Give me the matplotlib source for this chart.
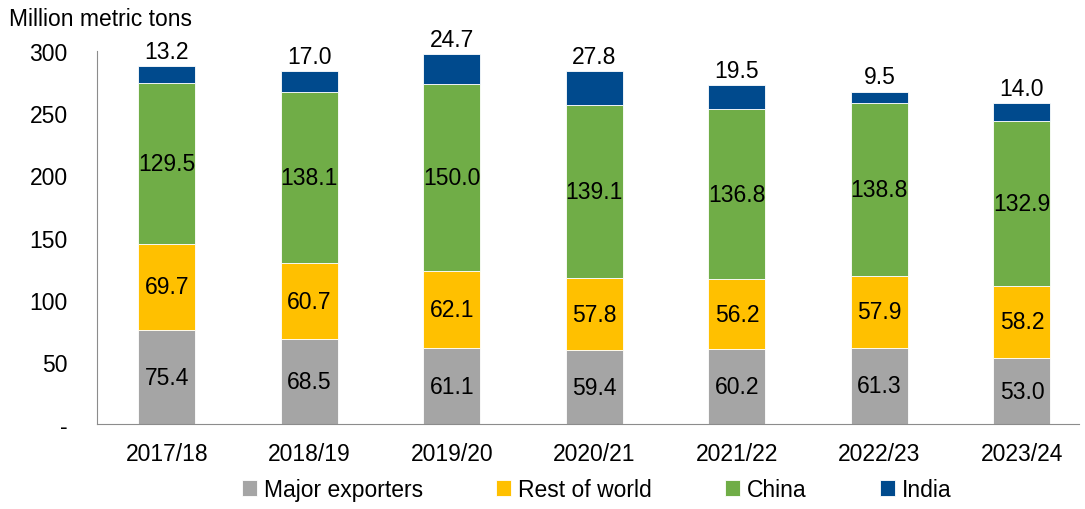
import matplotlib.pyplot as plt
import numpy as np

plt.rcParams['font.family'] = ['Liberation Sans', 'DejaVu Sans']

years = ['2017/18', '2018/19', '2019/20', '2020/21', '2021/22', '2022/23', '2023/24']
major_exporters = [75.4, 68.5, 61.1, 59.4, 60.2, 61.3, 53.0]
rest_of_world = [69.7, 60.7, 62.1, 57.8, 56.2, 57.9, 58.2]
china = [129.5, 138.1, 150.0, 139.1, 136.8, 138.8, 132.9]
india = [13.2, 17.0, 24.7, 27.8, 19.5, 9.5, 14.0]

series = [
    ('Major exporters', major_exporters, '#A5A5A5'),
    ('Rest of world', rest_of_world, '#FFC000'),
    ('China', china, '#70AD47'),
    ('India', india, '#004A8D'),
]

fs = 16.5

fig = plt.figure(figsize=(10.85, 5.1), dpi=100)
ax = fig.add_axes([0.0894, 0.1667, 0.905, 0.731])

x = np.arange(len(years))
bottom = np.zeros(len(years))
for name, vals, color in series:
    vals = np.array(vals)
    ax.bar(x, vals, 0.4, bottom=bottom, color=color, label=name,
           edgecolor='white', linewidth=0.6)
    for xi, b, v in zip(x, bottom, vals):
        if name == 'India':
            ax.text(xi, b + v + 2.5, f'{v:.1f}', ha='center', va='bottom', fontsize=fs)
        else:
            ax.text(xi, b + v / 2, f'{v:.1f}', ha='center', va='center', fontsize=fs)
    bottom += vals

ax.set_xlim(-0.49, 6.4)
ax.set_ylim(0, 300)
ax.set_yticks([0, 50, 100, 150, 200, 250, 300])
ax.set_yticklabels(['-', '50', '100', '150', '200', '250', '300'])
ax.set_xticks(x)
ax.set_xticklabels(years)
ax.tick_params(length=0, labelsize=fs)
ax.tick_params(axis='x', pad=13)
ax.tick_params(axis='y', pad=21)
for side in ['top', 'right']:
    ax.spines[side].set_visible(False)
for side in ['left', 'bottom']:
    ax.spines[side].set_color('#8C8C8C')

fig.text(0.008, 0.962, 'Million metric tons', fontsize=fs, va='center')

fig.legend(loc='lower center', bbox_to_anchor=(0.55, -0.025), ncol=4, frameon=False,
           fontsize=fs, handlelength=0.65, handleheight=0.65, handletextpad=0.3,
           columnspacing=3.2)

fig.savefig('out.png', dpi=100)
